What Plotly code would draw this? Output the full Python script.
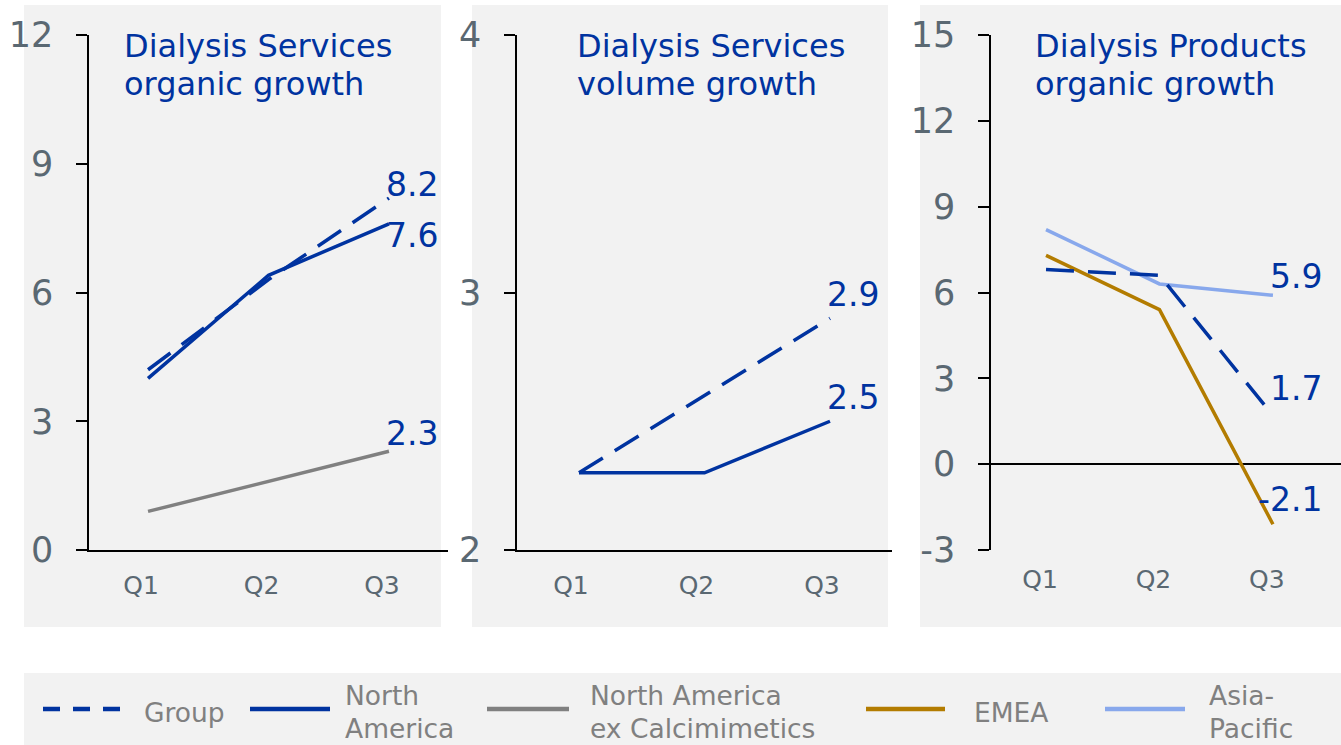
import plotly.graph_objects as go

# ---------------- data ----------------
quarters = ["Q1", "Q2", "Q3"]

# Panel 1: Dialysis Services organic growth
p1_group = [4.2, 6.3, 8.2]
p1_na = [4.0, 6.4, 7.6]
p1_na_ex_calc = [0.9, 1.6, 2.3]

# Panel 2: Dialysis Services volume growth
p2_group = [2.3, 2.6, 2.9]
p2_na = [2.3, 2.3, 2.5]

# Panel 3: Dialysis Products organic growth
p3_group = [6.8, 6.6, 1.7]
p3_emea = [7.3, 5.4, -2.1]
p3_apac = [8.2, 6.3, 5.9]

panel_titles = [["Dialysis Services", "organic growth"],
                ["Dialysis Services", "volume growth"],
                ["Dialysis Products", "organic growth"]]
y_ranges = [[0, 12], [2, 4], [-3, 15]]
y_ticks = [[0, 3, 6, 9, 12], [2, 3, 4], [-3, 0, 3, 6, 9, 12, 15]]

legend_names = [["Group"], ["North", "America"], ["North America", "ex Calcimimetics"],
                ["EMEA"], ["Asia-", "Pacific"]]

# ---------------- style ----------------
W, H = 1341, 745
BLUE = "#0033A0"
GRAY = "#808080"
EMEA_C = "#B37C00"
APAC_C = "#88A8EC"
BG = "#F2F2F2"
TICK_C = "#5A6872"
FONT = "DejaVu Sans, Verdana, sans-serif"
DASH = "28px,14px"
LW = 3.5


def px(x):
    return x / W


def py(y):
    return 1 - y / H


xs = list(range(len(quarters)))

fig = go.Figure()

series = [
    ("x", "y", p1_na_ex_calc, GRAY, "solid"),
    ("x", "y", p1_na, BLUE, "solid"),
    ("x", "y", p1_group, BLUE, DASH),
    ("x2", "y2", p2_na, BLUE, "solid"),
    ("x2", "y2", p2_group, BLUE, DASH),
    ("x3", "y3", p3_emea, EMEA_C, "solid"),
    ("x3", "y3", p3_apac, APAC_C, "solid"),
    ("x3", "y3", p3_group, BLUE, DASH),
]
for xa, ya, vals, col, dash in series:
    fig.add_trace(go.Scatter(x=xs, y=vals, xaxis=xa, yaxis=ya, mode="lines",
                             line=dict(color=col, width=LW, dash=dash),
                             showlegend=False, hoverinfo="skip"))

# axes
x_domains = [[px(89), px(448)], [px(517), px(892)], [px(991), px(1341)]]
x_ranges = [[-0.49, 2.49], [-0.494, 2.494], [-0.485, 2.6]]
tick_shift = [-0.058, -0.064, -0.053]   # labels sit slightly left of the data points
y_domain = [py(550), py(35)]
for i in range(3):
    sfx = "" if i == 0 else str(i + 1)
    fig.update_layout(**{
        "xaxis" + sfx: dict(domain=x_domains[i], range=x_ranges[i], anchor="y" + sfx,
                            tickvals=[v + tick_shift[i] for v in xs], ticktext=quarters,
                            showgrid=False, zeroline=False, automargin=False,
                            showline=(i < 2), linecolor="black", linewidth=1.5, ticks="",
                            tickfont=dict(family=FONT, size=25, color=TICK_C),
                            ticklabelstandoff=12),
        "yaxis" + sfx: dict(domain=y_domain, range=y_ranges[i], anchor="x" + sfx,
                            tickvals=y_ticks[i], ticktext=[str(v) for v in y_ticks[i]],
                            showgrid=False, automargin=False,
                            zeroline=(i == 2), zerolinecolor="black", zerolinewidth=1.5,
                            showline=True, linecolor="black", linewidth=1.5,
                            ticks="outside", ticklen=11, tickwidth=1.5, tickcolor="black",
                            tickfont=dict(family=FONT, size=35, color=TICK_C),
                            ticklabelstandoff=16),
    })

shapes = []
for x0, x1 in [(24, 441), (472, 888), (920, 1341)]:
    shapes.append(dict(type="rect", xref="paper", yref="paper", x0=px(x0), x1=px(x1),
                       y0=py(627), y1=py(5), fillcolor=BG, line=dict(width=0), layer="below"))
shapes.append(dict(type="rect", xref="paper", yref="paper", x0=px(24), x1=px(1341),
                   y0=py(745), y1=py(673), fillcolor=BG, line=dict(width=0), layer="below"))

annotations = []
# panel titles (two single-line annotations each)
for xl, lines in zip([122, 575, 1033], panel_titles):
    for t, yc in zip(lines, [46, 84]):
        annotations.append(dict(xref="paper", yref="paper", x=px(xl), y=py(yc), xanchor="left",
                                yanchor="middle", showarrow=False, text=t,
                                font=dict(family=FONT, size=32, color=BLUE)))

# end-value labels
end_labels = [("x", "y", p1_group[-1], 14), ("x", "y", p1_na[-1], -12),
              ("x", "y", p1_na_ex_calc[-1], 18),
              ("x2", "y2", p2_group[-1], 24), ("x2", "y2", p2_na[-1], 24),
              ("x3", "y3", p3_apac[-1], 19), ("x3", "y3", p3_group[-1], 27),
              ("x3", "y3", p3_emea[-1], 25)]
for xa, ya, v, ysh in end_labels:
    annotations.append(dict(xref=xa, yref=ya, x=xs[-1], y=v, xanchor="right", yanchor="middle",
                            xshift=51, yshift=ysh, showarrow=False, text=f"{v:.1f}",
                            font=dict(family=FONT, size=33, color=BLUE)))

# manual legend
leg_items = [
    (legend_names[0], BLUE, "17px,13px", 43, 120, 142),
    (legend_names[1], BLUE, "solid", 250, 330, 343),
    (legend_names[2], GRAY, "solid", 487, 569, 588),
    (legend_names[3], EMEA_C, "solid", 866, 945, 972),
    (legend_names[4], APAC_C, "solid", 1105, 1185, 1207),
]
for lines, col, dash, x0, x1, xt in leg_items:
    shapes.append(dict(type="line", xref="paper", yref="paper", x0=px(x0), x1=px(x1),
                       y0=py(709), y1=py(709), line=dict(color=col, width=4.5, dash=dash)))
    ys = [712] if len(lines) == 1 else [695, 728]
    for t, yc in zip(lines, ys):
        annotations.append(dict(xref="paper", yref="paper", x=px(xt), y=py(yc), xanchor="left",
                                yanchor="middle", showarrow=False, text=t,
                                font=dict(family=FONT, size=26.5, color=GRAY)))

fig.update_layout(width=W, height=H,
                  margin=dict(l=0, r=0, t=0, b=0, pad=0, autoexpand=False),
                  paper_bgcolor="white", plot_bgcolor="rgba(0,0,0,0)",
                  shapes=shapes, annotations=annotations, showlegend=False)

fig.write_html("out.html", config={"displayModeBar": False},
               post_script="document.body.style.margin='0';")
